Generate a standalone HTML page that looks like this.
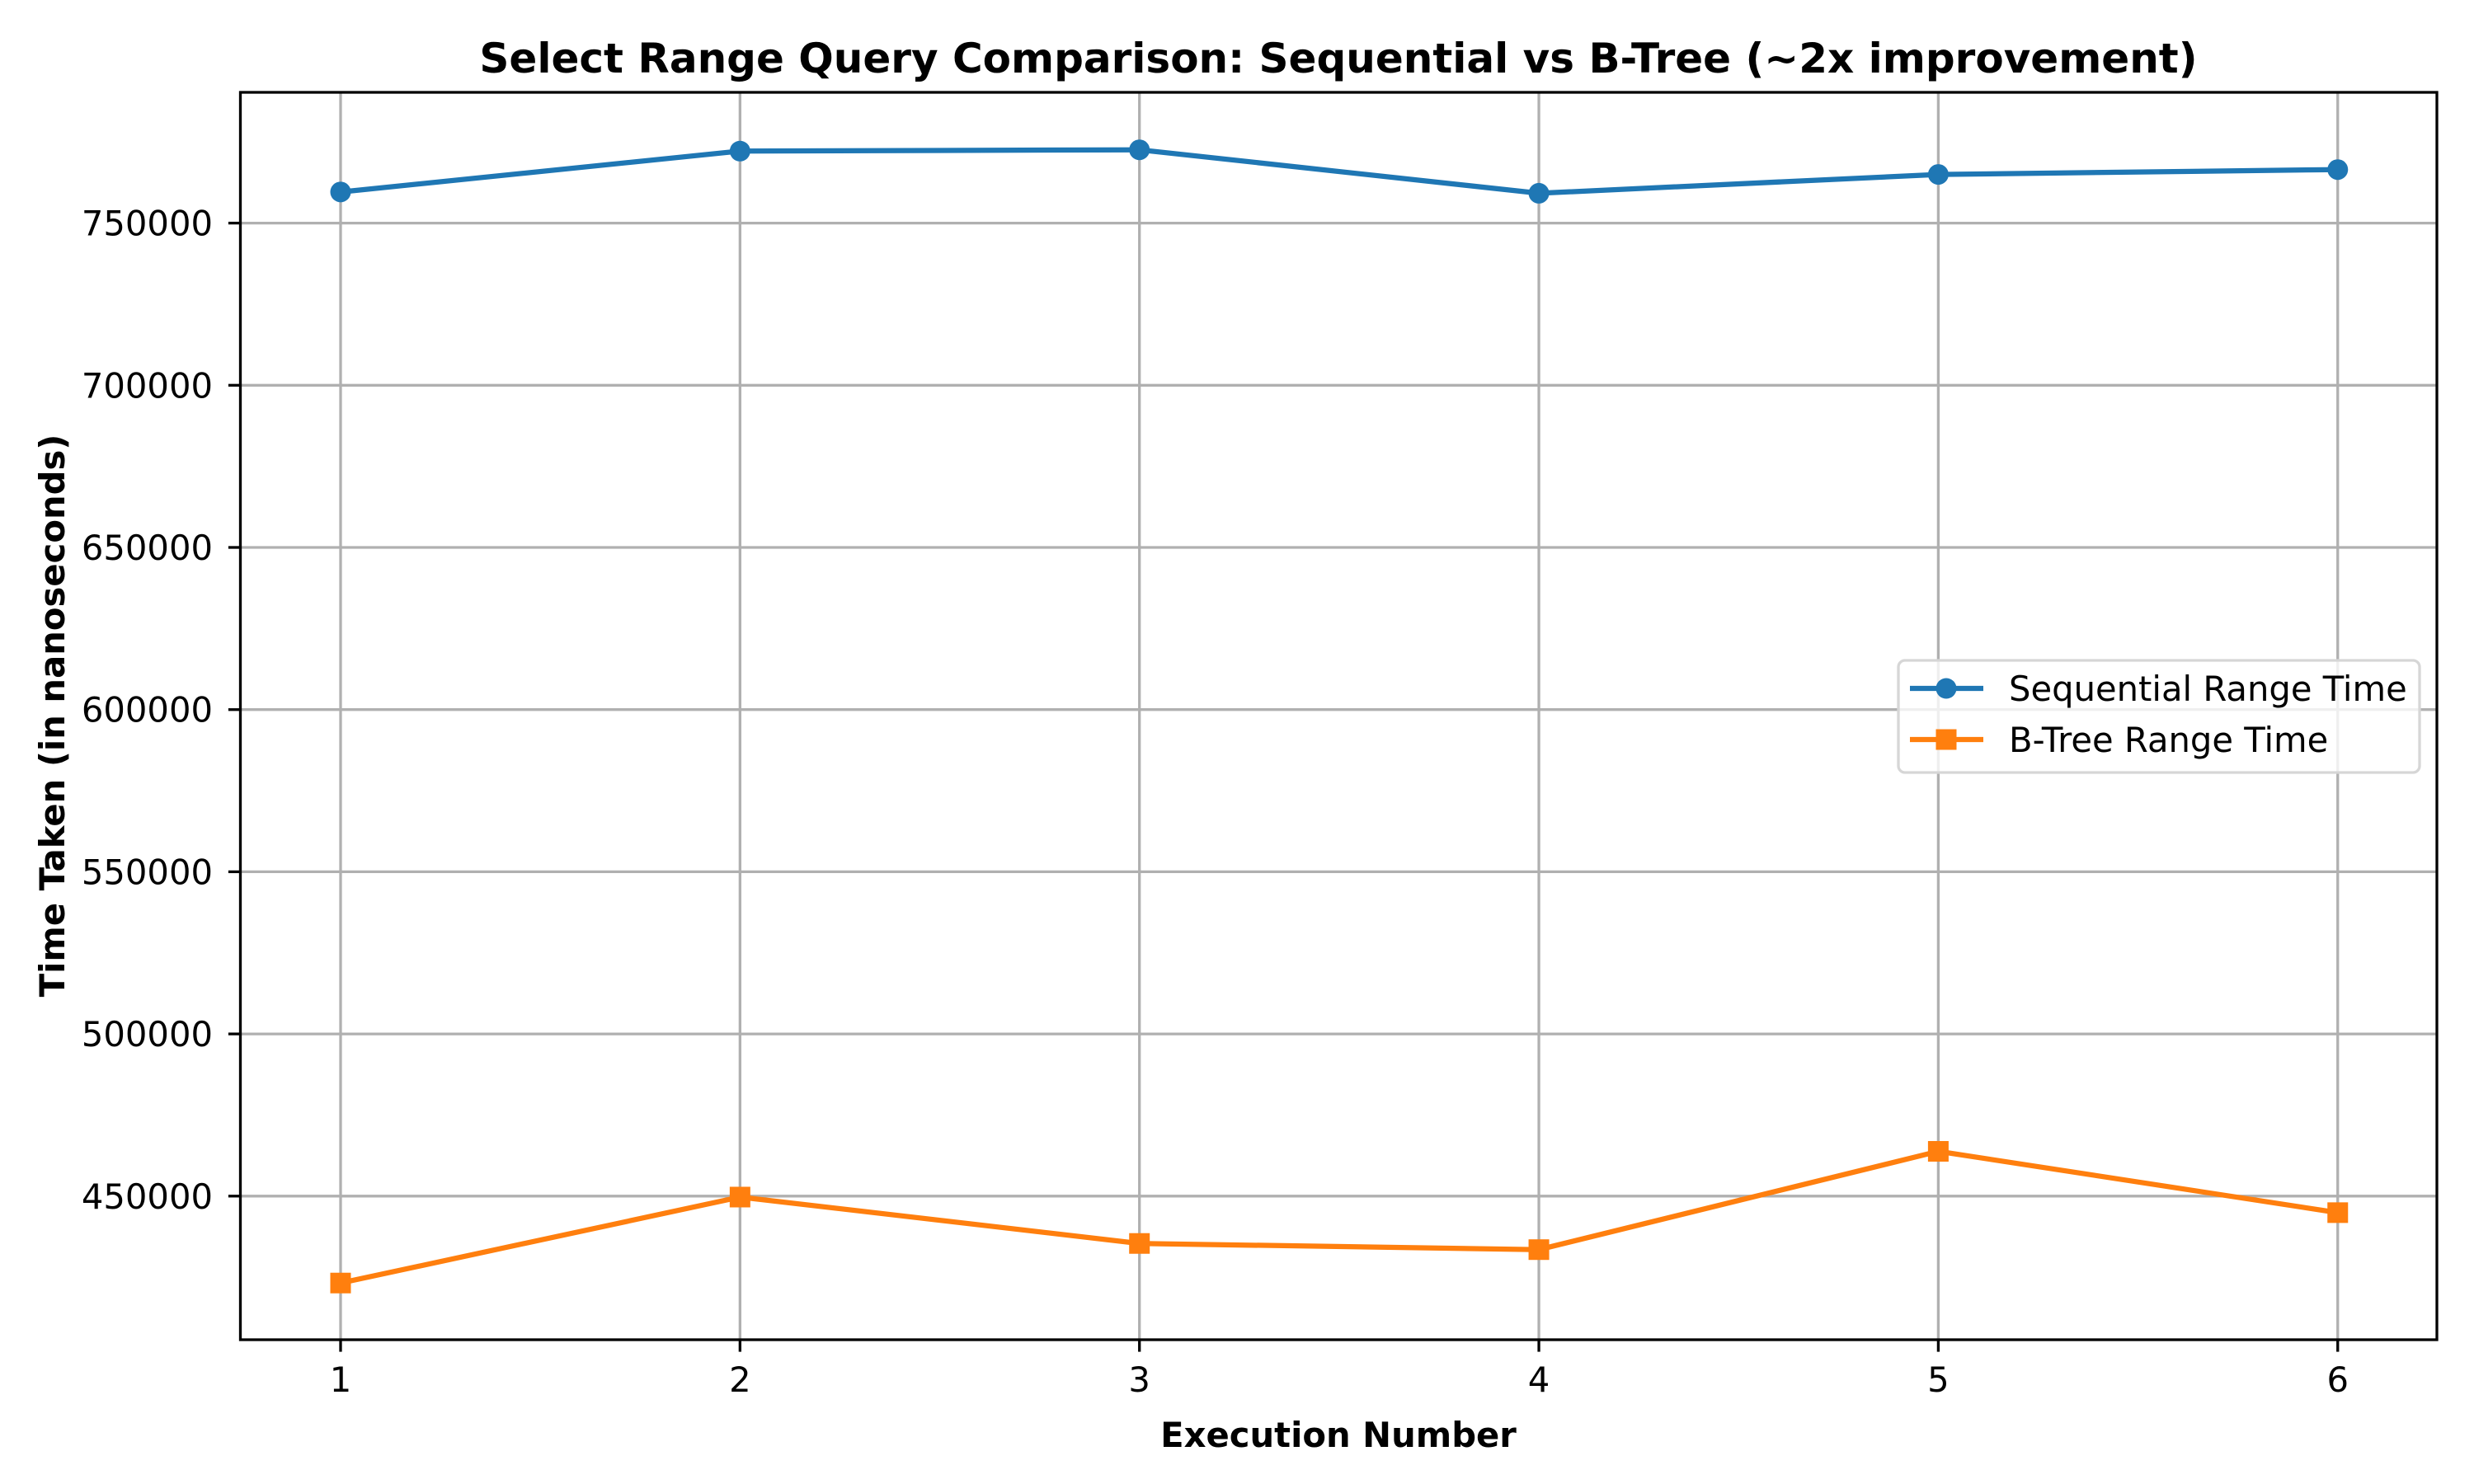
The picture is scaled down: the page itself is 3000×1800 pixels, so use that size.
<!DOCTYPE html>
<html><head><meta charset="utf-8"><style>
html,body{margin:0;padding:0;background:#fff;}
svg{display:block;font-family:"DejaVu Sans","Liberation Sans",sans-serif;}
</style></head><body>
<svg id="chart" width="3000" height="1800" viewBox="0 0 3000 1800" xmlns="http://www.w3.org/2000/svg">
<rect width="3000" height="1800" fill="#fff"/>
<g id="grid"></g>
<g id="series"></g>
<rect x="291.5" y="112" width="2663.5" height="1513" fill="none" stroke="#000" stroke-width="3.3"/>
<g id="ticks"></g>
<text x="1623" y="88" text-anchor="middle" font-size="50" font-weight="bold">Select Range Query Comparison: Sequential vs B-Tree (~2x improvement)</text>
<text x="1623" y="1755" text-anchor="middle" font-size="41.7" font-weight="bold">Execution Number</text>
<text transform="translate(78,868) rotate(-90)" text-anchor="middle" font-size="41.7" font-weight="bold">Time Taken (in nanoseconds)</text>
<g>
<rect x="2302" y="801" width="632" height="136" rx="8" fill="#fff" fill-opacity="0.8" stroke="#d6d6d6" stroke-width="3.3"/>
<g>
<line x1="2316" y1="835" x2="2405" y2="835" stroke="#1f77b4" stroke-width="6.25"/>
<circle cx="2360" cy="835" r="12.5" fill="#1f77b4"/>
<text x="2436" y="850" font-size="41.7">Sequential Range Time</text>
</g>
<g>
<line x1="2316" y1="897" x2="2405" y2="897" stroke="#ff7f0e" stroke-width="6.25"/>
<rect x="2347.5" y="884.5" width="25" height="25" fill="#ff7f0e"/>
<text x="2436" y="912" font-size="41.7">B-Tree Range Time</text>
</g>
</g>
</svg>
<script>
const categories = [1, 2, 3, 4, 5, 6];
const sequentialValues = [759600, 772200, 772600, 759200, 765000, 766500];
const btreeValues = [423200, 449700, 435400, 433500, 463800, 444900];
const yTickValues = [450000, 500000, 550000, 600000, 650000, 700000, 750000];
const yTickLabels = ["450000", "500000", "550000", "600000", "650000", "700000", "750000"];

const NS = "http://www.w3.org/2000/svg";
const plotLeft = 291.5, plotRight = 2955, plotTop = 112, plotBottom = 1625;
function xScale(v){ return 413 + (v - 1) * 484.35; }
function yScale(v){ return 270.6 + (750000 - v) / 50000 * 196.7; }
function mk(tag, attrs, parent){ const e = document.createElementNS(NS, tag); for (const k in attrs) e.setAttribute(k, attrs[k]); parent.appendChild(e); return e; }

const grid = document.getElementById('grid');
const ticks = document.getElementById('ticks');
categories.forEach(c => {
  const x = xScale(c);
  const gl = mk('line', {x1:x, y1:plotTop, x2:x, y2:plotBottom, stroke:'#b0b0b0', 'stroke-width':3.3}, grid);
  
  
  const tk = mk('line', {x1:x, y1:plotBottom, x2:x, y2:plotBottom+14.6, stroke:'#000', 'stroke-width':3.3}, ticks);
  
  
  const t = mk('text', {x:x, y:1688, 'text-anchor':'middle', 'font-size':41.7}, ticks);
  
  
  t.textContent = String(c);
});
yTickValues.forEach((v, i) => {
  const y = yScale(v);
  const gl = mk('line', {x1:plotLeft, y1:y, x2:plotRight, y2:y, stroke:'#b0b0b0', 'stroke-width':3.3}, grid);
  
  
  const tk = mk('line', {x1:plotLeft-14.6, y1:y, x2:plotLeft, y2:y, stroke:'#000', 'stroke-width':3.3}, ticks);
  
  
  const t = mk('text', {x:258, y:y+15, 'text-anchor':'end', 'font-size':41.7}, ticks);
  
  
  t.textContent = yTickLabels[i];
});

const series = document.getElementById('series');
function drawSeries(vals, color, marker, name){
  const g = mk('g', {}, series);
  
  
  const pts = vals.map((v, i) => xScale(categories[i]) + ',' + yScale(v)).join(' ');
  const pl = mk('polyline', {points:pts, fill:'none', stroke:color, 'stroke-width':6.25, 'stroke-linejoin':'round'}, g);
  
  
  vals.forEach((v, i) => {
    const x = xScale(categories[i]), y = yScale(v);
    let m;
    if (marker === 'circle') m = mk('circle', {cx:x, cy:y, r:12.5, fill:color}, g);
    else m = mk('rect', {x:x-12.5, y:y-12.5, width:25, height:25, fill:color}, g);
    
    
  });
}
drawSeries(sequentialValues, '#1f77b4', 'circle', 'sequential-series');
drawSeries(btreeValues, '#ff7f0e', 'square', 'btree-series');
</script>
</body></html>
